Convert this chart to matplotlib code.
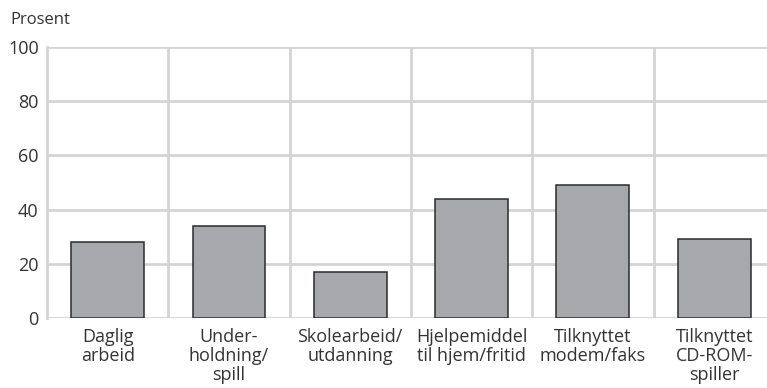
import numpy as np
import matplotlib.pyplot as plt

plt.rcParams['font.family'] = ['Open Sans', 'DejaVu Sans']

categories = ['Daglig\narbeid', 'Under-\nholdning/\nspill', 'Skolearbeid/\nutdanning',
              'Hjelpemiddel\ntil hjem/fritid', 'Tilknyttet\nmodem/faks', 'Tilknyttet\nCD-ROM-\nspiller']
values = [28, 34, 17, 44, 49, 29]
yticks = [0, 20, 40, 60, 80, 100]

grid_col = '#d4d4d4'
text_col = '#333333'

fig = plt.figure(figsize=(7.67, 3.88), dpi=100)
ax = fig.add_axes([47 / 767, 1 - 318 / 388, 1 - 47 / 767, 271 / 388])

x = np.arange(len(categories))
ax.bar(x, values, width=0.6, color='#a7a8ab', edgecolor='#2b2b2b', linewidth=1.1, zorder=3)

# grid lines: horizontal at ticks, vertical between categories
for y in yticks:
    ax.axhline(y, color=grid_col, linewidth=2, zorder=1)
for b in np.arange(0.5, len(categories), 1.0):
    ax.axvline(b, color=grid_col, linewidth=2, zorder=1)

ax.set_xlim(-0.5, -0.5 + 720 / 121.3)
ax.set_ylim(0, 100)
for s in ['top', 'right', 'bottom']:
    ax.spines[s].set_visible(False)
ax.spines['left'].set_color(grid_col)
ax.spines['left'].set_linewidth(2)

ax.set_yticks(yticks)
ax.set_yticklabels([str(v) for v in yticks], fontsize=13, color=text_col)
ax.set_xticks(x)
ax.set_xticklabels(categories, fontsize=13, color=text_col, linespacing=1.08, va='top')
ax.tick_params(axis='both', length=0)
ax.tick_params(axis='y', pad=6)
ax.tick_params(axis='x', pad=7)

fig.text(10 / 767, 1 - 20 / 388, 'Prosent', fontsize=12, color=text_col, va='center', ha='left')

fig.savefig('out.png', dpi=100)
